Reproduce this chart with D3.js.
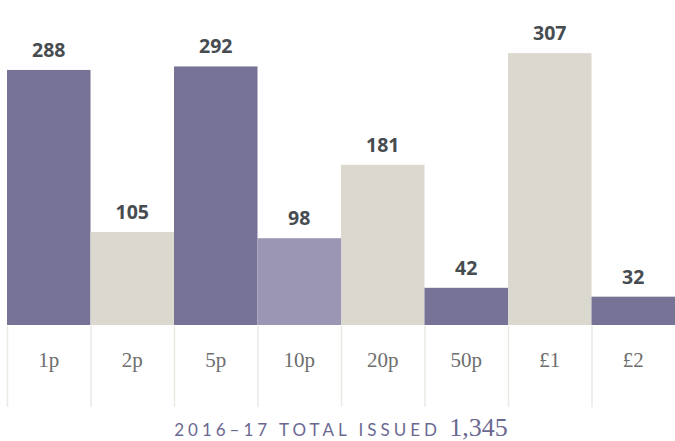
<!DOCTYPE html>
<html>
<head>
<meta charset="utf-8">
<script src="https://cdn.jsdelivr.net/npm/d3@7"></script>
<style>
  body { margin: 0; background: #fff; }
  svg { display: block; }
</style>
</head>
<body>
<div id="chart"></div>
<script>
const coins = ["1p", "2p", "5p", "10p", "20p", "50p", "£1", "£2"];
const issued = [288, 105, 292, 98, 181, 42, 307, 32];
const tones = ["dark", "light", "dark", "mid", "light", "dark", "light", "dark"];
const total = "1,345";

const width = 675, height = 441;
const baseY = 325;

const fill = { dark: "#777396", mid: "#9a96b4", light: "#dbd8d0" };

const svg = d3.select("#chart").append("svg")
    .attr("width", width)
    .attr("height", height);

const x = d3.scaleBand().domain(coins).range([7, 675]).padding(0);
const y = d3.scaleLinear().domain([0, 367]).range([baseY, 0]);

// divider lines under the bars
svg.append("g")
    .selectAll("line")
    .data(coins)
    .enter().append("line")
    .attr("x1", d => x(d) + 0.5)
    .attr("x2", d => x(d) + 0.5)
    .attr("y1", baseY + 1)
    .attr("y2", 407)
    .attr("stroke", "#ebe9e4")
    .attr("stroke-width", 1.5);

svg.append("g")
    .selectAll("rect")
    .data(coins)
    .enter().append("rect")
    .attr("x", d => x(d))
    .attr("width", x.bandwidth())
    .attr("y", (d, i) => y(issued[i]))
    .attr("height", (d, i) => baseY - y(issued[i]))
    .attr("fill", (d, i) => fill[tones[i]]);

svg.append("g")
    .selectAll("text")
    .data(coins)
    .enter().append("text")
    .attr("x", d => x(d) + x.bandwidth() / 2)
    .attr("y", (d, i) => y(issued[i]) - 13)
    .attr("text-anchor", "middle")
    .attr("font-family", "Open Sans")
    .attr("font-weight", 700)
    .attr("font-size", 19.5)
    .attr("fill", "#464c50")
    .text((d, i) => issued[i]);

// coin names as the axis
const axis = svg.append("g")
    .attr("transform", `translate(0,${baseY})`)
    .call(d3.axisBottom(x).tickSize(0).tickPadding(0));
axis.select(".domain").remove();
axis.selectAll("text")
    .attr("dy", null)
    .attr("y", 42)
    .attr("font-family", "Liberation Serif")
    .attr("font-size", 21)
    .attr("fill", "#6e6e6e");

const title = svg.append("text")
    .attr("x", 341)
    .attr("y", 436)
    .attr("text-anchor", "middle")
    .attr("fill", "#6b6891");
title.append("tspan")
    .attr("font-family", "Lato")
    .attr("font-size", 17)
    .attr("letter-spacing", 4)
    .text("2016–17 TOTAL ISSUED ");
title.append("tspan")
    .attr("font-family", "Liberation Serif")
    .attr("font-size", 26)
    .text(total);
</script>
</body>
</html>
